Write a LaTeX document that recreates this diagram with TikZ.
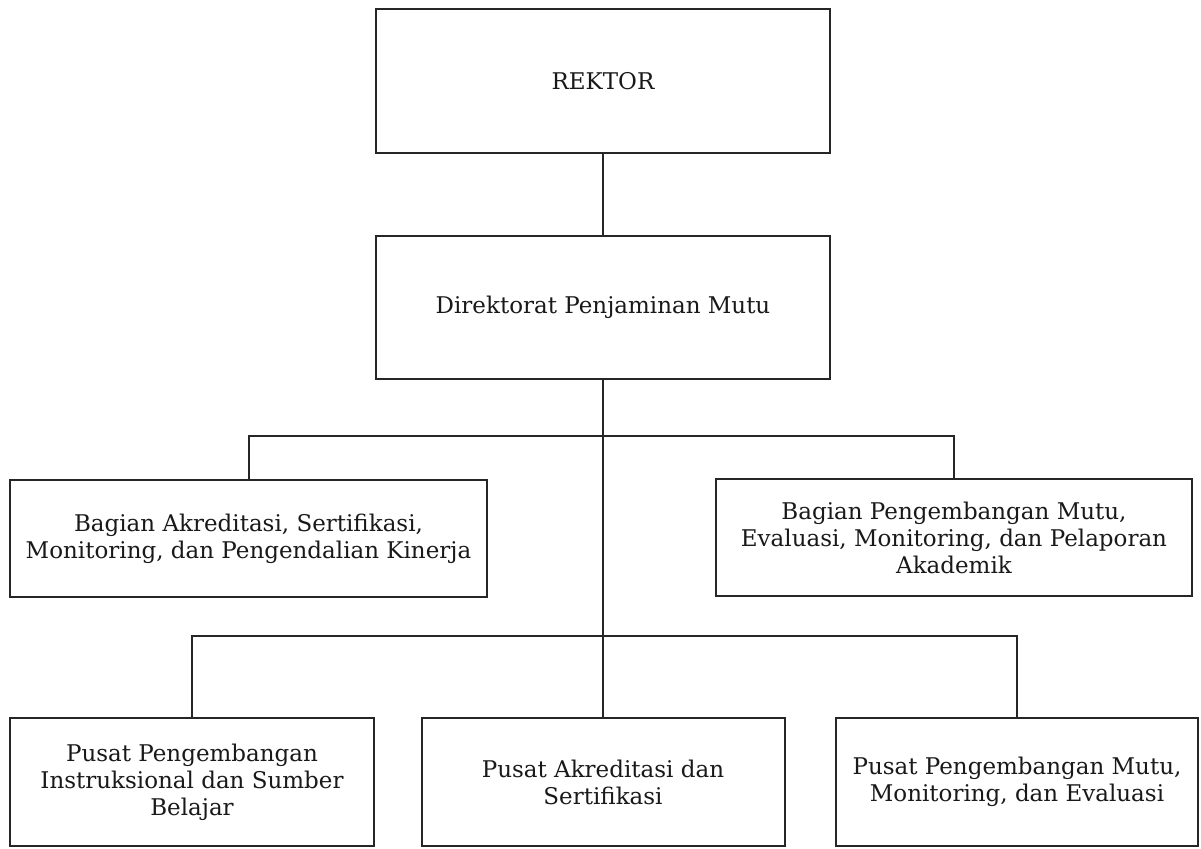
\documentclass[tikz,border=0pt]{standalone}
\usepackage{fontspec}
\setmainfont{DejaVu Serif}
\tikzset{
  orgbox/.style={draw=black!85, line width=1pt, fill=white, inner sep=0pt, align=center,
    font=\fontsize{11.5}{13.5}\selectfont, text=black!90},
  link/.style={draw=black!85, line width=1pt}
}
\begin{document}
\begin{tikzpicture}[x=0.5pt, y=-0.5pt]
\useasboundingbox (0,0) rectangle (1201,848);
\node[orgbox, minimum width=227pt, minimum height=72pt] (rektor) at (603,81) {REKTOR};
\node[orgbox, minimum width=227pt, minimum height=71.5pt] (dir) at (603,307.5) {Direktorat Penjaminan Mutu};
\node[orgbox, minimum width=238.5pt, minimum height=58.5pt] (bak) at (248.5,538.5) {Bagian Akreditasi, Sertifikasi,\\Monitoring, dan Pengendalian Kinerja};
\node[orgbox, minimum width=238pt, minimum height=58.5pt] (bpm) at (954,537.5) {Bagian Pengembangan Mutu,\\Evaluasi, Monitoring, dan Pelaporan\\Akademik};
\node[orgbox, minimum width=182pt, minimum height=64pt] (ppi) at (192,782) {Pusat Pengembangan\\Instruksional dan Sumber\\Belajar};
\node[orgbox, minimum width=181.5pt, minimum height=64pt] (pas) at (603,782) {Pusat Akreditasi dan\\Sertifikasi};
\node[orgbox, minimum width=181pt, minimum height=64pt] (ppm) at (1017,782) {Pusat Pengembangan Mutu,\\Monitoring, dan Evaluasi};
\coordinate (j1) at (603,436);
\coordinate (j2) at (603,636);
\draw[link] (rektor.south) -- (dir.north);
\draw[link] (dir.south) -- (j2);
\draw[link] (bak.north) |- (j1) -| (bpm.north);
\draw[link] (ppi.north) |- (j2) -| (ppm.north);
\draw[link] (j2) -- (pas.north);
\end{tikzpicture}
\end{document}
